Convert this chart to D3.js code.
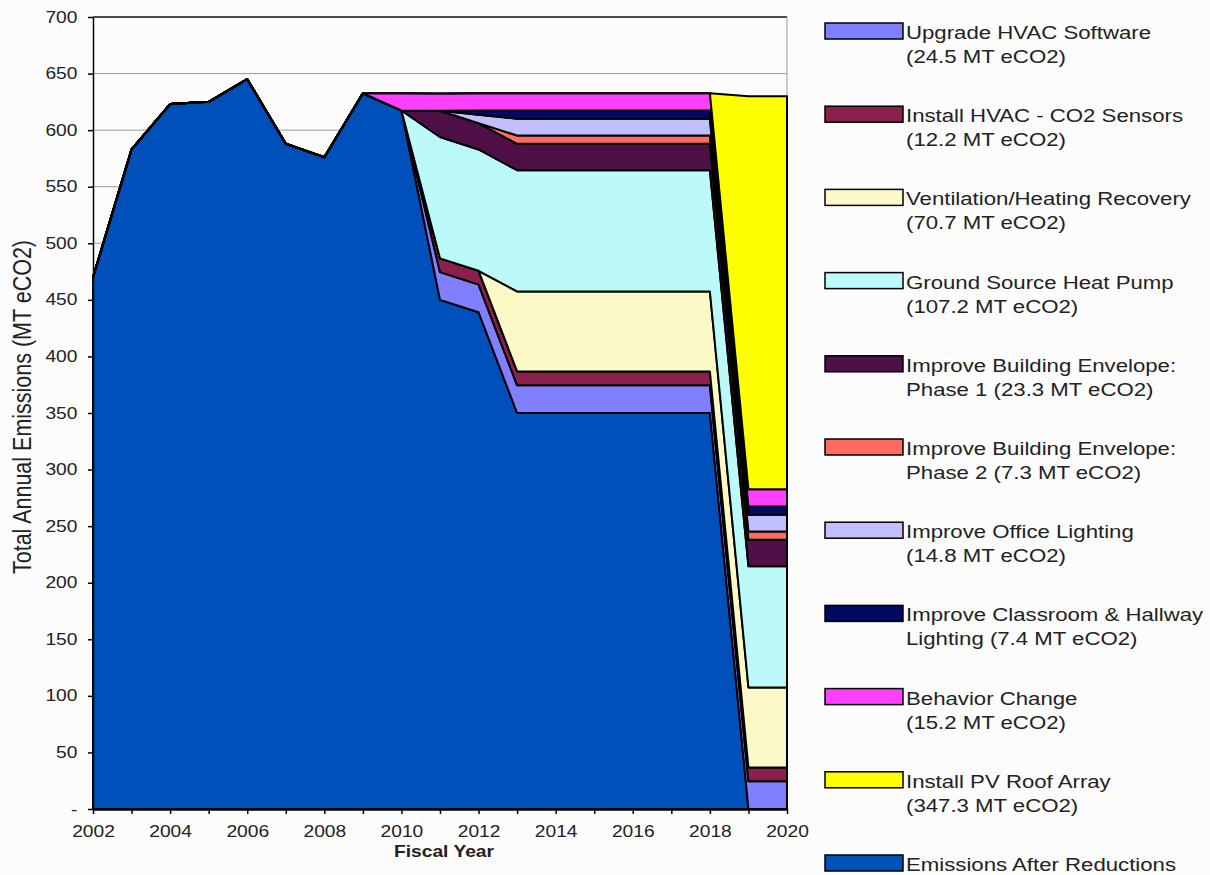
<!DOCTYPE html>
<html lang="en">
<head>
<meta charset="utf-8">
<script src="https://d3js.org/d3.v7.min.js"></script>
<style>
  body { margin: 0; background: #fcfcfc; }
  svg { display: block; }
  text { font-family: "Liberation Sans", Arial, sans-serif; fill: #222; }
  .area { stroke: #000; stroke-width: 2px; stroke-linejoin: round; }
  .grid line { stroke: #9a9a9a; stroke-width: 1px; }
  .axis path, .axis line { stroke: #000; stroke-width: 1.5px; }
</style>
</head>
<body>
<div id="chart"></div>
<script>
// ---- data (MT eCO2 per fiscal year) ----
var years = [2002, 2003, 2004, 2005, 2006, 2007, 2008, 2009, 2010, 2011, 2012, 2013, 2014, 2015, 2016, 2017, 2018, 2019, 2020];

var emissions  = [470, 583, 623, 625, 645, 588, 576, 632.6, 617.4, 450, 439, 350, 350, 350, 350, 350, 350, 0, 0];
var hvacSoft   = [0, 0, 0, 0, 0, 0, 0, 0, 0, 24.5, 24.5, 24.5, 24.5, 24.5, 24.5, 24.5, 24.5, 24.5, 24.5];
var co2Sensors = [0, 0, 0, 0, 0, 0, 0, 0, 0, 12.2, 12.2, 12.2, 12.2, 12.2, 12.2, 12.2, 12.2, 12.2, 12.2];
var ventHeat   = [0, 0, 0, 0, 0, 0, 0, 0, 0, 0, 0, 70.7, 70.7, 70.7, 70.7, 70.7, 70.7, 70.7, 70.7];
var heatPump   = [0, 0, 0, 0, 0, 0, 0, 0, 0, 107.2, 107.2, 107.2, 107.2, 107.2, 107.2, 107.2, 107.2, 107.2, 107.2];
var envelope1  = [0, 0, 0, 0, 0, 0, 0, 0, 0, 23.3, 23.3, 23.3, 23.3, 23.3, 23.3, 23.3, 23.3, 23.3, 23.3];
var envelope2  = [0, 0, 0, 0, 0, 0, 0, 0, 0, 0, 0, 7.3, 7.3, 7.3, 7.3, 7.3, 7.3, 7.3, 7.3];
var officeLt   = [0, 0, 0, 0, 0, 0, 0, 0, 0, 0, 7.4, 14.8, 14.8, 14.8, 14.8, 14.8, 14.8, 14.8, 14.8];
var classLt    = [0, 0, 0, 0, 0, 0, 0, 0, 0, 0, 3.7, 7.4, 7.4, 7.4, 7.4, 7.4, 7.4, 7.4, 7.4];
var behavior   = [0, 0, 0, 0, 0, 0, 0, 0, 15.2, 15.2, 15.2, 15.2, 15.2, 15.2, 15.2, 15.2, 15.2, 15.2, 15.2];
var pvArray    = [0, 0, 0, 0, 0, 0, 0, 0, 0, 0, 0, 0, 0, 0, 0, 0, 0, 347.3, 347.3];

// stack order, bottom to top
var seriesKeys = ["emissions", "hvacSoft", "co2Sensors", "ventHeat", "heatPump", "envelope1", "envelope2", "officeLt", "classLt", "behavior", "pvArray"];
var seriesValues = [emissions, hvacSoft, co2Sensors, ventHeat, heatPump, envelope1, envelope2, officeLt, classLt, behavior, pvArray];
var seriesColors = ["#0050bb", "#8080ff", "#8b1f4d", "#fcf9c6", "#bbfaf8", "#4f0f47", "#ff6a62", "#c0c0ff", "#000a62", "#ff40ff", "#ffff00"];
var seriesLabels = [
  ["Emissions After Reductions"],
  ["Upgrade HVAC Software", "(24.5 MT eCO2)"],
  ["Install HVAC - CO2 Sensors", "(12.2 MT eCO2)"],
  ["Ventilation/Heating Recovery", "(70.7 MT eCO2)"],
  ["Ground Source Heat Pump", "(107.2 MT eCO2)"],
  ["Improve Building Envelope:", "Phase 1 (23.3 MT eCO2)"],
  ["Improve Building Envelope:", "Phase 2 (7.3 MT eCO2)"],
  ["Improve Office Lighting", "(14.8 MT eCO2)"],
  ["Improve Classroom & Hallway", "Lighting (7.4 MT eCO2)"],
  ["Behavior Change", "(15.2 MT eCO2)"],
  ["Install PV Roof Array", "(347.3 MT eCO2)"]
];
var yTicks = [0, 50, 100, 150, 200, 250, 300, 350, 400, 450, 500, 550, 600, 650, 700];
var xLabelYears = [2002, 2004, 2006, 2008, 2010, 2012, 2014, 2016, 2018, 2020];

var width = 1210, height = 875;
var stretch = 1.2; // text in the original is drawn a bit wide

var rows = years.map(function(yr, i) {
  var r = { year: yr };
  seriesKeys.forEach(function(k, j) { r[k] = seriesValues[j][i]; });
  return r;
});

var x = d3.scaleLinear().domain([2002, 2020]).range([93, 787]);
var y = d3.scaleLinear().domain([0, 700]).range([809, 17]);

var svg = d3.select("#chart").append("svg")
  .attr("width", width)
  .attr("height", height);

// gridlines
svg.append("g").attr("class", "grid")
  .selectAll("line")
  .data(yTicks.filter(function(d) { return d > 0; }))
  .enter().append("line")
  .attr("x1", x(2002)).attr("x2", x(2020))
  .attr("y1", function(d) { return y(d); })
  .attr("y2", function(d) { return y(d); })
  .style("stroke", function(d) { return d === 700 ? "#111" : null; })
  .style("stroke-width", function(d) { return d === 700 ? "1.5px" : null; });

svg.append("line")
  .attr("x1", x(2020)).attr("x2", x(2020))
  .attr("y1", y(700)).attr("y2", y(0))
  .style("stroke", "#9a9a9a");

// stacked areas
var stack = d3.stack().keys(seriesKeys);
var layers = stack(rows);

var area = d3.area()
  .x(function(d) { return x(d.data.year); })
  .y0(function(d) { return y(d[0]); })
  .y1(function(d) { return y(d[1]); });

svg.append("g").selectAll("path")
  .data(layers)
  .enter().append("path")
  .attr("class", "area")
  .attr("d", area)
  .style("fill", function(d, i) { return seriesColors[i]; });

// axes
var xAxis = d3.axisBottom(x)
  .tickValues(years)
  .tickSize(5)
  .tickSizeOuter(0)
  .tickPadding(12)
  .tickFormat(function(d) { return xLabelYears.indexOf(d) >= 0 ? d : ""; });

var gx = svg.append("g").attr("class", "axis")
  .attr("transform", "translate(0," + y(0) + ")")
  .call(xAxis);
gx.select(".domain").style("stroke-width", "2.5px");
gx.selectAll("text")
  .style("font-size", "16px")
  .style("fill", "#222")
  .attr("transform", "scale(" + stretch + ",1)");

var yAxis = d3.axisLeft(y)
  .tickValues(yTicks)
  .tickSize(5)
  .tickSizeOuter(0)
  .tickPadding(8)
  .tickFormat(function(d) { return d === 0 ? "-" : d; });

var gy = svg.append("g").attr("class", "axis")
  .attr("transform", "translate(" + x(2002) + ",0)")
  .call(yAxis);
gy.selectAll("text")
  .style("font-size", "16px")
  .style("fill", "#222")
  .attr("transform", "scale(" + stretch + ",1)");

// axis titles
svg.append("text")
  .attr("transform", "translate(444,857) scale(" + stretch + ",1)")
  .attr("text-anchor", "middle")
  .style("font-size", "16px")
  .style("font-weight", "bold")
  .text("Fiscal Year");

svg.append("text")
  .attr("transform", "translate(31,407) scale(" + stretch + ",1) rotate(-90)")
  .attr("text-anchor", "middle")
  .style("font-size", "21.5px")
  .text("Total Annual Emissions (MT eCO2)");

// legend (emissions listed last)
var legendOrder = d3.range(1, seriesKeys.length).concat([0]);
var legend = svg.append("g").selectAll("g")
  .data(legendOrder)
  .enter().append("g")
  .attr("transform", function(d, i) { return "translate(825," + (23 + i * 83.2) + ")"; });

legend.append("rect")
  .attr("width", 78).attr("height", 16)
  .style("fill", function(d) { return seriesColors[d]; })
  .style("stroke", "#000")
  .style("stroke-width", "1.5px");

legend.each(function(d) {
  var g = d3.select(this);
  seriesLabels[d].forEach(function(line, k) {
    g.append("text")
      .attr("transform", "translate(81," + (16 + k * 24) + ") scale(" + stretch + ",1)")
      .style("font-size", "18.5px")
      .text(line);
  });
});
</script>
</body>
</html>
